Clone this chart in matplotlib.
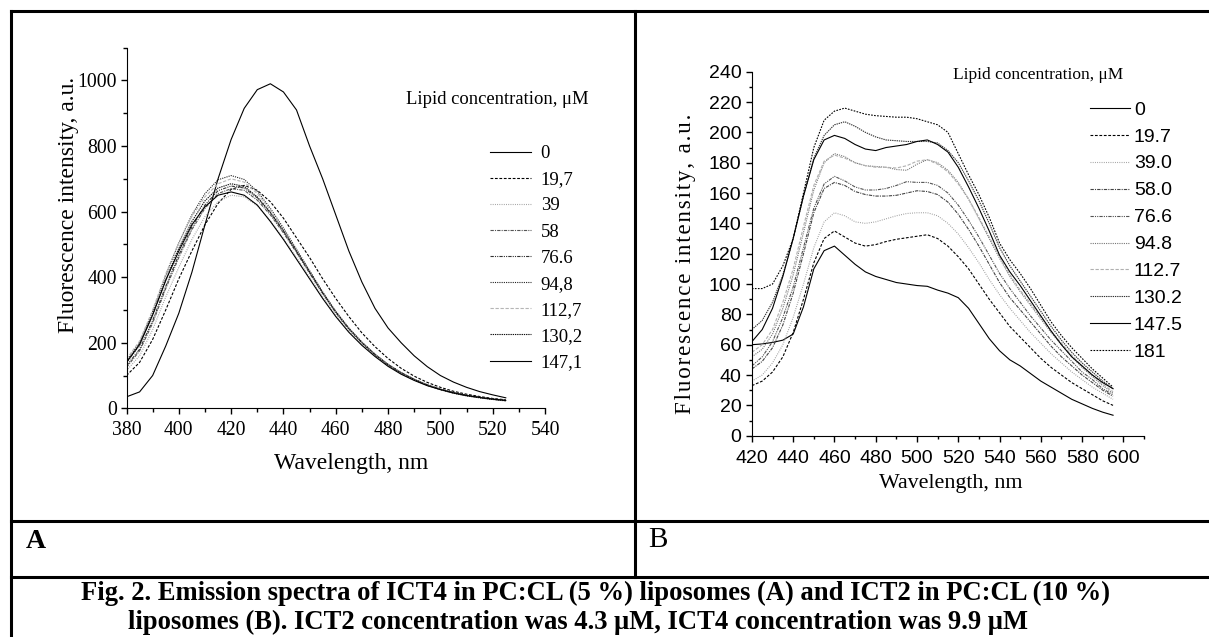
import matplotlib.pyplot as plt
from matplotlib.lines import Line2D
from matplotlib.ticker import MultipleLocator

# ---- panel A: ICT4 in PC:CL (5 %) liposomes ----
wl_a = [380, 385, 390, 395, 400, 405, 410, 415, 420, 425, 430, 435, 440, 445, 450,
        455, 460, 465, 470, 475, 480, 485, 490, 495, 500, 505, 510, 515, 520, 525]
labels_a = ["0", "19,7", "39", "58", "76.6", "94,8", "112,7", "130,2", "147,1"]
a_0 = [35, 50, 100, 190, 290, 415, 560, 700, 820, 915, 972, 990, 965, 910, 800,
       700, 590, 480, 385, 305, 245, 200, 160, 127, 100, 80, 64, 51, 41, 32]
a_19_7 = [100, 140, 210, 300, 395, 480, 560, 625, 668, 680, 665, 630, 580, 520, 460,
          395, 335, 280, 230, 188, 152, 122, 98, 79, 64, 52, 43, 36, 30, 26]
a_39 = [115, 160, 240, 340, 430, 515, 585, 630, 650, 645, 618, 572, 518, 460, 400,
        340, 285, 236, 195, 160, 130, 106, 86, 70, 57, 47, 39, 33, 28, 24]
a_58 = [125, 175, 260, 365, 460, 545, 610, 655, 670, 665, 635, 590, 535, 475, 412,
        350, 292, 242, 200, 164, 133, 108, 88, 71, 58, 48, 40, 33, 28, 24]
a_76_6 = [130, 180, 268, 372, 468, 553, 620, 664, 678, 672, 642, 596, 540, 478, 415,
          352, 294, 244, 201, 165, 134, 109, 89, 72, 59, 48, 40, 34, 28, 24]
a_94_8 = [145, 200, 295, 405, 505, 590, 655, 697, 710, 698, 662, 610, 550, 485, 420,
          355, 296, 245, 202, 165, 134, 109, 88, 71, 58, 47, 39, 33, 28, 23]
a_112_7 = [150, 205, 300, 410, 505, 585, 645, 685, 700, 690, 655, 605, 545, 482, 418,
           354, 295, 244, 201, 164, 133, 108, 87, 70, 57, 46, 38, 32, 27, 22]
a_130_2 = [140, 192, 285, 392, 488, 570, 633, 672, 685, 677, 645, 598, 542, 480, 417,
           353, 294, 243, 200, 163, 132, 107, 87, 70, 57, 46, 38, 32, 27, 23]
a_147_1 = [140, 195, 285, 390, 480, 560, 615, 650, 660, 650, 620, 570, 515, 455, 395,
           335, 280, 232, 192, 158, 128, 104, 85, 69, 57, 47, 39, 33, 28, 24]

# ---- panel B: ICT2 in PC:CL (10 %) liposomes ----
wl_b = [420, 425, 430, 435, 440, 445, 450, 455, 460, 465, 470, 475, 480, 485, 490, 495,
        500, 505, 510, 515, 520, 525, 530, 535, 540, 545, 550, 555, 560, 565, 570, 575,
        580, 585, 590, 595]
labels_b = ["0", "19.7", "39.0", "58.0", "76.6", "94.8", "112.7", "130.2", "147.5", "181"]
b_0 = [60, 60.5, 61.5, 63, 67, 85, 110, 122, 125, 119, 113, 108, 105, 103, 101, 100,
       99, 98.5, 96, 94, 91, 84, 74, 64, 56, 50, 46, 41, 36, 32, 28, 24, 21, 18, 15.5, 13.5]
b_19_7 = [33, 36, 42, 52, 68, 90, 114, 130, 135, 131, 127, 125, 126, 128, 129.5, 130.5,
          131.5, 132.5, 130, 125, 118, 110, 100, 90, 81, 72, 65, 58, 51, 45, 40, 35, 31, 27, 23, 20]
b_39 = [36, 40, 48, 60, 78, 100, 124, 141, 147, 145, 141, 140, 141, 143, 145, 146.5,
        147, 147, 145, 140, 133, 124, 114, 103, 93, 84, 76, 68, 61, 54, 48, 42, 37, 32, 28, 24]
b_58 = [44, 49, 58, 73, 94, 120, 147, 163, 167, 165, 161, 159, 158, 158, 158.5, 160,
        161.5, 161, 159, 154, 146, 136, 125, 113, 101, 91, 83, 75, 67, 59, 52, 46, 40, 35, 30, 26]
b_76_6 = [46, 52, 62, 78, 98, 124, 150, 166, 171, 168, 164, 162, 162, 163, 165, 167.5,
          167, 167, 165, 160, 152, 142, 131, 119, 107, 97, 88, 79, 71, 63, 56, 49, 42, 37, 31, 27]
b_94_8 = [52, 57, 67, 84, 106, 134, 162, 180, 186, 184, 180, 178, 177.5, 177, 175.5, 175,
          179, 182, 180, 175, 167, 156, 143, 130, 117, 105, 95, 86, 77, 68, 60, 52, 45, 39, 33, 28]
b_112_7 = [55, 60, 70, 88, 110, 138, 165, 181, 185, 183, 180, 178, 177, 177, 176.5, 178,
           181, 182, 179, 174, 166, 156, 144, 131, 118, 106, 96, 87, 78, 69, 61, 53, 46, 40, 34, 29]
b_130_2 = [70, 76, 88, 106, 130, 158, 183, 198, 205, 207, 204, 200, 197, 195, 194.5, 194,
           194, 194, 193, 188, 180, 168, 155, 140, 124, 112, 102, 92, 82, 72, 63, 55, 48, 42, 36, 31]
b_147_5 = [62, 70, 84, 105, 130, 158, 182, 195, 198, 196, 192, 189, 188, 190, 191, 192,
           194, 195, 192, 187, 177, 164, 150, 135, 119, 108, 99, 89, 79, 69, 60, 52, 46, 40, 35, 31]
b_181 = [97, 97, 100, 112, 130, 160, 190, 208, 214, 216, 214, 212, 211, 210.5, 210, 210,
         209, 207, 205, 200, 186, 172, 159, 144, 127, 116, 107, 97, 86, 75, 66, 58, 51, 44, 38, 32]

series_a = [a_0, a_19_7, a_39, a_58, a_76_6, a_94_8, a_112_7, a_130_2, a_147_1]
series_b = [b_0, b_19_7, b_39, b_58, b_76_6, b_94_8, b_112_7, b_130_2, b_147_5, b_181]

# (linestyle, colour)
styles_a = [('-', 'black'), ((0, (2.5, 1.5)), 'black'), ((0, (0.8, 1.2)), '#9a9a9a'),
            ((0, (3, 1, 1, 1)), '#555555'), ((0, (3, 1, 1, 1, 1, 1)), '#333333'),
            ((0, (1, 1)), '#222222'), ((0, (3, 1.5)), '#b5b5b5'),
            ((0, (1.2, 0.8)), '#111111'), ('-', 'black')]
styles_b = [('-', 'black'), ((0, (2.5, 1.5)), 'black'), ((0, (0.8, 1.2)), '#9a9a9a'),
            ((0, (3, 1, 1, 1)), '#444444'), ((0, (3, 1, 1, 1, 1, 1)), '#555555'),
            ((0, (1, 1)), '#777777'), ((0, (3, 1.5)), '#b0b0b0'),
            ((0, (1.2, 0.8)), '#333333'), ('-', 'black'), ((0, (1.5, 1.2)), 'black')]

W, H = 1209, 637
SERIF = 'Liberation Serif'
NARROW = ['Liberation Sans Narrow', 'Liberation Sans']

fig = plt.figure(figsize=(W / 100, H / 100), dpi=100)


def fx(px):
    return px / W


def fy(py):
    return 1 - py / H


# table frame
for x0, y0, x1, y1 in [(11, 11, W, 11), (11, 11, 11, H), (635, 11, 635, 577),
                       (11, 521, W, 521), (11, 577, W, 577)]:
    fig.add_artist(Line2D([fx(x0), fx(x1)], [fy(y0), fy(y1)], color='black',
                          lw=2.2, transform=fig.transFigure, solid_capstyle='projecting'))

# ---------- A ----------
ax = fig.add_axes([fx(126.5), fy(408.3), (545 - 126.5) / W, (408.3 - 47.7) / H])
for y, lab, (ls, c) in zip(series_a, labels_a, styles_a):
    ax.plot(wl_a, y, ls=ls, color=c, lw=0.8, label=lab)
ax.set_xlim(380, 540)
ax.set_ylim(0, 1100)
ax.xaxis.set_major_locator(MultipleLocator(20))
ax.xaxis.set_minor_locator(MultipleLocator(10))
ax.yaxis.set_major_locator(MultipleLocator(200))
ax.yaxis.set_minor_locator(MultipleLocator(100))
for s in ['top', 'right']:
    ax.spines[s].set_visible(False)
ax.tick_params(which='major', direction='out', length=4, width=1, labelsize=14.2, pad=3)
ax.tick_params(axis='x', which='major', pad=5)
ax.tick_params(which='minor', direction='out', length=3, width=1)
for t in ax.get_xticklabels() + ax.get_yticklabels():
    t.set_family(SERIF)
ax.set_xlabel('Wavelength, nm', family=SERIF, fontsize=17, va='center')
ax.xaxis.set_label_coords(0.5364, -0.1517)
ax.set_ylabel('Fluorescence intensity, a.u.', family=SERIF, fontsize=17, va='center')
ax.yaxis.set_label_coords(-0.1374, 0.5638)
fig.text(fx(406), fy(99), 'Lipid concentration, \u03bcM', family=SERIF, fontsize=13.4,
         va='center', ha='left')
ax.legend(loc='upper left', bbox_to_anchor=(fx(490), fy(145)), bbox_transform=fig.transFigure,
          frameon=False, borderpad=0, borderaxespad=0, handlelength=2.2, handletextpad=0.5,
          labelspacing=0.48, prop=dict(family=SERIF, size=13.5))

# ---------- B ----------
bx = fig.add_axes([fx(751.9), fy(435.7), (1144 - 751.9) / W, (435.7 - 71.7) / H])
for y, lab, (ls, c) in zip(series_b, labels_b, styles_b):
    bx.plot(wl_b, y, ls=ls, color=c, lw=0.8, label=lab)
bx.set_xlim(420, 610)
bx.set_ylim(0, 240)
bx.xaxis.set_major_locator(MultipleLocator(20))
bx.xaxis.set_minor_locator(MultipleLocator(10))
bx.yaxis.set_major_locator(MultipleLocator(20))
bx.yaxis.set_minor_locator(MultipleLocator(10))
for s in ['top', 'right']:
    bx.spines[s].set_visible(False)
bx.tick_params(which='major', direction='out', length=4, width=1, labelsize=14, pad=3.5)
bx.tick_params(axis='x', which='major', pad=6.5)
bx.tick_params(which='minor', direction='out', length=2.5, width=1)
for t in bx.get_xticklabels() + bx.get_yticklabels():
    t.set_family(NARROW)
bx.set_xlabel('Wavelength, nm', family=SERIF, fontsize=15.8, va='center')
bx.xaxis.set_label_coords(0.5078, -0.13)
# the original label is letter-spaced: hair spaces between the glyphs
spaced = '\u200a'.join('Fluorescence intensity, a.u.')
bx.set_ylabel(spaced, family=[SERIF, 'DejaVu Serif'], fontsize=16.5, va='center')
bx.yaxis.set_label_coords(-0.1706, 0.4717)
fig.text(fx(953), fy(75), 'Lipid concentration, \u03bcM', family=SERIF, fontsize=12.5,
         va='center', ha='left')
bx.legend(loc='upper left', bbox_to_anchor=(fx(1090), fy(101)), bbox_transform=fig.transFigure,
          frameon=False, borderpad=0, borderaxespad=0, handlelength=2.06, handletextpad=0.2,
          labelspacing=0.48, prop=dict(family=NARROW, size=14))

# panel letters and caption
fig.text(fx(26), fy(542), 'A', family=SERIF, weight='bold', fontsize=20, va='center')
fig.text(fx(648), fy(540), 'B', family=SERIF, fontsize=21, va='center')
fig.text(fx(81), fy(593),
         'Fig. 2. Emission spectra of ICT4 in PC:CL (5 %) liposomes (A) and ICT2 in PC:CL (10 %)',
         family=SERIF, weight='bold', fontsize=19.2, va='center')
fig.text(fx(128), fy(622),
         'liposomes (B). ICT2 concentration was 4.3 \u03bcM, ICT4 concentration was 9.9 \u03bcM',
         family=SERIF, weight='bold', fontsize=19.2, va='center')

fig.savefig('out.png', dpi=100)
